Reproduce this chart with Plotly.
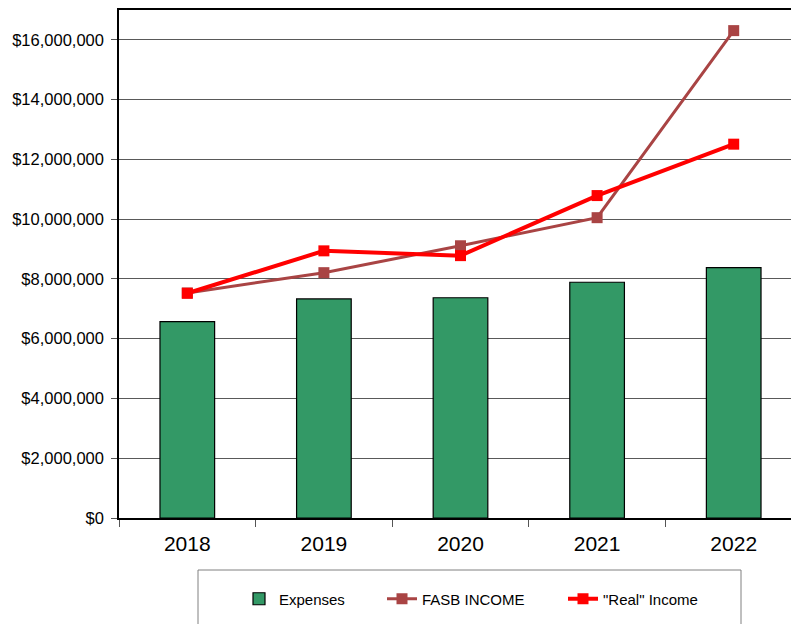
import plotly.graph_objects as go

years = ["2018", "2019", "2020", "2021", "2022"]
expenses = [6570000, 7330000, 7370000, 7890000, 8380000]
fasb_income = [7530000, 8210000, 9110000, 10050000, 16310000]
real_income = [7520000, 8940000, 8780000, 10790000, 12510000]

W, H = 791, 624
L, R, T, B = 119, 0, 10, 106
pw = W - L - R
ph = H - T - B

def px_x(x):
    return (x - L) / pw

def px_y(y):
    return (H - B - y) / ph

font = "Liberation Sans, Arial, sans-serif"

fig = go.Figure()
fig.add_trace(go.Bar(
    x=years, y=expenses, name="Expenses", width=0.4,
    marker=dict(color="#339966", line=dict(color="#000000", width=1.2)),
    legend="legend", showlegend=True,
))
fig.add_trace(go.Scatter(
    x=years, y=fasb_income, name="FASB INCOME", mode="lines+markers",
    line=dict(color="#A94444", width=3),
    marker=dict(symbol="square", size=11, color="#A94444"),
    legend="legend2", showlegend=True,
))
fig.add_trace(go.Scatter(
    x=years, y=real_income, name="\"Real\" Income", mode="lines+markers",
    line=dict(color="#FF0000", width=4),
    marker=dict(symbol="square", size=11, color="#FF0000"),
    legend="legend3", showlegend=True,
))

leg_common = dict(orientation="h", yanchor="middle", xanchor="left",
                  bgcolor="rgba(0,0,0,0)", borderwidth=0,
                  font=dict(family=font, size=15, color="#000000"),
                  itemwidth=30)
ly = px_y(599)
fig.update_layout(
    width=W, height=H,
    showlegend=True,
    margin=dict(l=L, r=R, t=T, b=B, pad=0),
    paper_bgcolor="white", plot_bgcolor="white",
    font=dict(family=font, color="#000000"),
    bargap=0.6,
    legend=dict(x=px_x(239), y=ly, **leg_common),
    legend2=dict(x=px_x(382), y=ly, **leg_common),
    legend3=dict(x=px_x(563), y=ly, **leg_common),
    xaxis=dict(
        type="category", range=[-0.5, -0.5 + pw / 136.6],
        showline=True, linecolor="#000000", linewidth=1.5, mirror=True,
        ticks="outside", tickson="boundaries", ticklen=7, tickcolor="#555555",
        tickfont=dict(family=font, size=21, color="#000000"),
        ticklabelstandoff=6,
        showgrid=False,
    ),
    yaxis=dict(
        range=[0, 17000000], dtick=2000000, tick0=0,
        tickprefix="$", tickformat=",.0f",
        showline=True, linecolor="#000000", linewidth=1.5,
        ticks="outside", ticklen=6, tickcolor="#555555",
        tickfont=dict(family=font, size=16.5, color="#000000"),
        ticklabelstandoff=4,
        showgrid=True, gridcolor="#595959", gridwidth=1,
        zeroline=False,
    ),
    shapes=[dict(type="rect", xref="paper", yref="paper",
                 x0=px_x(198), x1=px_x(741), y0=px_y(570), y1=px_y(640),
                 line=dict(color="#808080", width=1), fillcolor="rgba(0,0,0,0)")],
)

fig.write_html("out.html")
